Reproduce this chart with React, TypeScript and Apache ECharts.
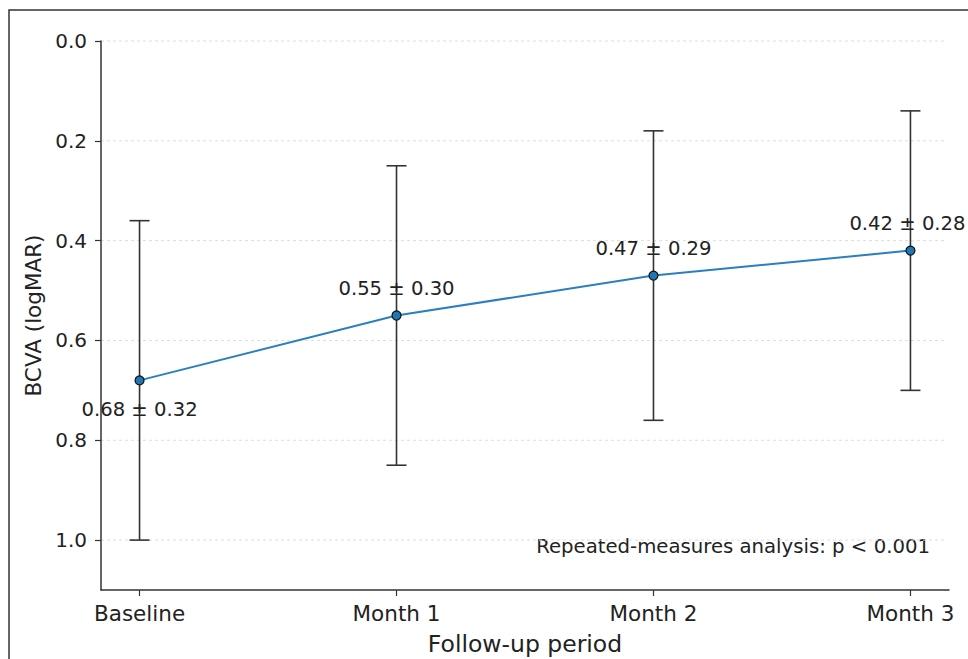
import React, { useEffect, useRef } from "react";
import * as echarts from "echarts";

const categories = ["Baseline", "Month 1", "Month 2", "Month 3"];
const means = [0.68, 0.55, 0.47, 0.42];
const sds = [0.32, 0.3, 0.29, 0.28];
const labelPositions = ["bottom", "top", "top", "top"];
const yTicks = [0, 0.2, 0.4, 0.6, 0.8, 1.0];
const annotation = "Repeated-measures analysis: p < 0.001";

const FONT = "DejaVu Sans";
const TEXT = "#222";

export default function App() {
  const ref = useRef<HTMLDivElement>(null);
  useEffect(() => {
    if (!ref.current) return;
    const chart = echarts.init(ref.current, null, { renderer: "svg" });
    const lineData = means.map((m, i) => ({
      value: [i, m],
      label: {
        position: labelPositions[i],
        distance: labelPositions[i] === "top" ? 12 : 14,
        offset: i === means.length - 1 ? [-3, 0] : [0, 0],
      },
    }));
    const errData = means.map((m, i) => [i, m - sds[i], m + sds[i]]);
    chart.setOption({
      animation: false,
      backgroundColor: "#fff",
      textStyle: { fontFamily: FONT },
      grid: { left: 101, top: 41, right: 19, bottom: 69, containLabel: false, outerBoundsMode: "none" },
      xAxis: {
        type: "value",
        min: -0.15,
        max: 3.15,
        name: "Follow-up period",
        nameLocation: "middle",
        nameGap: 42,
        nameTextStyle: { fontSize: 23.5, color: TEXT, fontFamily: FONT },
        axisLine: { show: true, onZero: false, lineStyle: { color: "#333", width: 1.5 } },
        axisTick: { show: true, customValues: [0, 1, 2, 3], length: 6, lineStyle: { color: "#333", width: 1.2 } },
        axisLabel: {
          customValues: [0, 1, 2, 3],
          formatter: (v: number) => categories[Math.round(v)] ?? "",
          fontSize: 21.5,
          color: TEXT,
          fontFamily: FONT,
          margin: 12,
        },
        splitLine: { show: false },
      },
      yAxis: {
        type: "value",
        inverse: true,
        min: 0,
        max: 1.1,
        name: "BCVA (logMAR)",
        nameLocation: "middle",
        nameGap: 56,
        nameRotate: 90,
        nameTextStyle: { fontSize: 21.5, color: TEXT, fontFamily: FONT },
        axisLine: { show: true, onZero: false, lineStyle: { color: "#333", width: 1.5 } },
        axisTick: { show: true, customValues: yTicks, length: 6, lineStyle: { color: "#333", width: 1.2 } },
        axisLabel: {
          customValues: yTicks,
          formatter: (v: number) => v.toFixed(1),
          fontSize: 20,
          color: TEXT,
          fontFamily: FONT,
          margin: 14,
        },
        splitLine: { show: false },
      },
      series: [
        {
          type: "custom",
          name: "grid",
          silent: true,
          z: 0,
          data: yTicks.map((t) => [t]),
          renderItem: (params: any, api: any) => {
            const v = api.value(0);
            const p1 = api.coord([-0.15, v]);
            const p2 = api.coord([3.15, v]);
            return {
              type: "line",
              shape: { x1: p1[0], y1: p1[1], x2: p2[0] - 2, y2: p2[1] },
              style: { stroke: "#dedede", lineWidth: 1, lineDash: [3, 3] },
            };
          },
        },
        {
          type: "custom",
          name: "errors",
          z: 2,
          data: errData,
          renderItem: (params: any, api: any) => {
            const x = api.value(0);
            const lo = api.coord([x, api.value(1)]);
            const hi = api.coord([x, api.value(2)]);
            const cap = 10;
            const st = { stroke: "#333", lineWidth: 1.6 };
            return {
              type: "group",
              children: [
                { type: "line", shape: { x1: lo[0], y1: lo[1], x2: hi[0], y2: hi[1] }, style: st },
                { type: "line", shape: { x1: lo[0] - cap, y1: lo[1], x2: lo[0] + cap, y2: lo[1] }, style: st },
                { type: "line", shape: { x1: hi[0] - cap, y1: hi[1], x2: hi[0] + cap, y2: hi[1] }, style: st },
              ],
            };
          },
        },
        {
          type: "line",
          name: "mean",
          z: 3,
          data: lineData,
          symbol: "circle",
          symbolSize: 9,
          lineStyle: { color: "#2a7fc0", width: 2 },
          itemStyle: { color: "#1f77b4", borderColor: "#111", borderWidth: 1.2 },
          label: {
            show: true,
            fontSize: 19.6,
            color: TEXT,
            fontFamily: FONT,
            formatter: (p: any) => `${means[p.dataIndex].toFixed(2)} ± ${sds[p.dataIndex].toFixed(2)}`,
          },
        },
      ],
      graphic: [
        {
          type: "rect",
          shape: { x: 9, y: 10, width: 1000, height: 1000 },
          style: { fill: "none", stroke: "#333", lineWidth: 1.5 },
          silent: true,
        },
        {
          type: "text",
          x: 930,
          y: 546,
          style: {
            text: annotation,
            fontSize: 19.7,
            fontFamily: FONT,
            fill: TEXT,
            textAlign: "right",
            textVerticalAlign: "middle",
          },
        },
      ],
    });
    return () => chart.dispose();
  }, []);
  return (
    <div
      ref={ref}
      style={{ position: "fixed", left: 0, top: 0, width: 968, height: 659, background: "#fff" }}
    />
  );
}
